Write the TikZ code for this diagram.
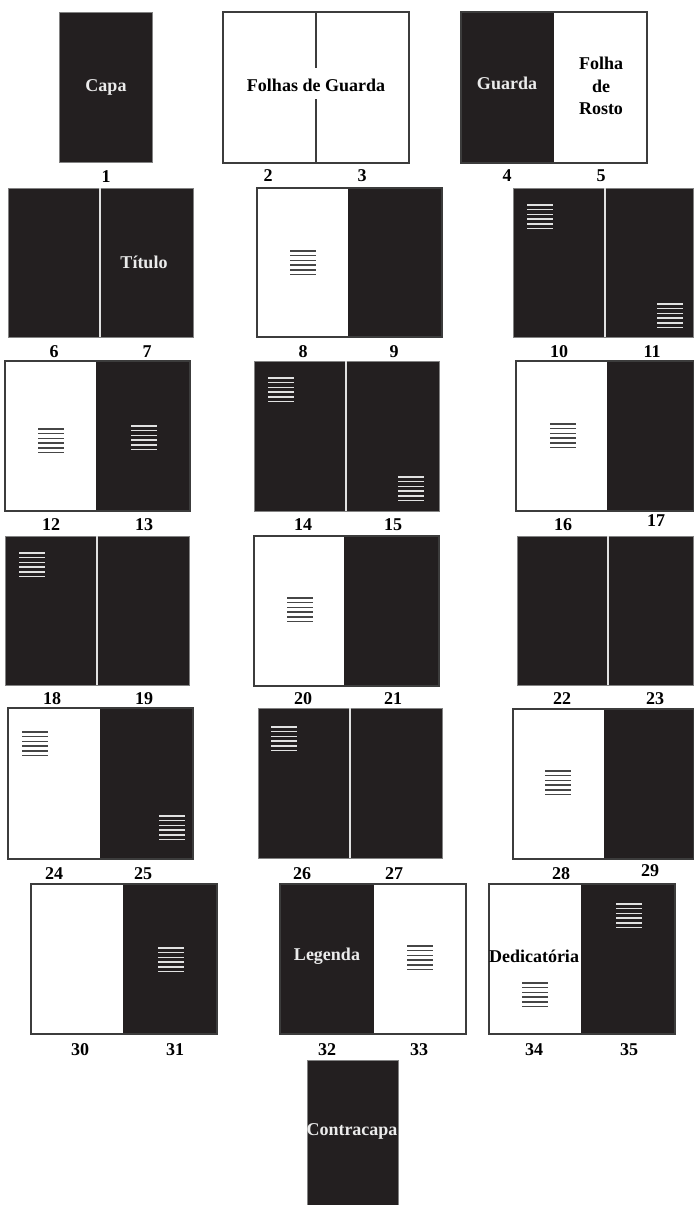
\documentclass[tikz,border=0pt]{standalone}
\usepackage{fontspec}
\setmainfont{Liberation Serif}
\definecolor{ink}{RGB}{35,31,32}
\definecolor{edge}{RGB}{60,60,60}
\definecolor{darkedge}{RGB}{130,130,130}
\definecolor{linedk}{RGB}{70,70,70}
\definecolor{linelt}{RGB}{225,225,225}
\tikzset{
  darkpg/.style={fill=ink, draw=darkedge, line width=0.6pt},
  darkfill/.style={fill=ink},
  whitepg/.style={fill=white, draw=edge, line width=1.2pt},
  outline/.style={draw=edge, line width=1.2pt},
  divw/.style={draw=linelt, line width=1.2pt},
  divk/.style={draw=edge, line width=1.2pt},
  txk/.style={draw=linedk, line width=1.4pt},
  txw/.style={draw=linelt, line width=1.4pt},
  num/.style={font=\bfseries\fontsize{18}{18}\selectfont, inner sep=0pt, text height=12pt, text depth=0pt, text=black},
  ttlw/.style={font=\bfseries\fontsize{18}{22.5}\selectfont, inner sep=0pt, text=white!92!black, align=center},
  ttlk/.style={font=\bfseries\fontsize{18}{22.5}\selectfont, inner sep=0pt, text=black, align=center}
}
\newcommand\txlines[3]{\foreach \k in {0,...,5}{\draw[#3] ({#1},{#2+4.7*\k}) -- ({#1+26},{#2+4.7*\k});}}
% mixed spread: x1 y1 xd x2 y2, dark side given by filling rectangle
\newcommand\mixL[5]{\fill[darkfill] (#1,#2) rectangle (#3,#5);\draw[outline] (#1,#2) rectangle (#4,#5);}
\newcommand\mixR[5]{\fill[darkfill] (#3,#2) rectangle (#4,#5);\draw[outline] (#1,#2) rectangle (#4,#5);}
\begin{document}
\begin{tikzpicture}[x=1pt,y=-1pt]
\useasboundingbox (0,0) rectangle (694,1205);
% ---- Row 0
\path[darkpg] (59,12) rectangle (152,162);
\node[ttlw] (capa) at (106,87) {Capa};
\node[num] (n1) at (106,176) {1};
\path[whitepg] (223,12) rectangle (409,163);
\draw[divk] (316,12) -- (316,68);
\draw[divk] (316,99) -- (316,163);
\node[ttlk] (guarda2) at (316,85) {Folhas de Guarda};
\node[num] (n2) at (268,175) {2};
\node[num] (n3) at (362,175) {3};
\mixL{461}{12}{554}{647}{163}
\node[ttlw] (guarda) at (507,83) {Guarda};
\node[ttlk] (rosto) at (601,86) {Folha\\de\\Rosto};
\node[num] (n4) at (507,175) {4};
\node[num] (n5) at (601,175) {5};
% ---- Row 1
\path[darkpg] (8,188) rectangle (193,337);
\draw[divw] (100,188) -- (100,337);
\node[ttlw] (titulo) at (144,262) {Título};
\node[num] (n6) at (54,351) {6};
\node[num] (n7) at (147,351) {7};
\mixR{257}{188}{348}{442}{337}
\txlines{290}{251}{txk}
\node[num] (n8) at (303,351) {8};
\node[num] (n9) at (394,351) {9};
\path[darkpg] (513,188) rectangle (693.7,337);
\draw[divw] (605,188) -- (605,337);
\txlines{527}{205}{txw}
\txlines{657}{304}{txw}
\node[num] (n10) at (559,351) {10};
\node[num] (n11) at (652,351) {11};
% ---- Row 2
\mixR{5}{361}{96}{190}{511}
\txlines{38}{429}{txk}
\txlines{131}{426}{txw}
\node[num] (n12) at (51,524) {12};
\node[num] (n13) at (144,524) {13};
\path[darkpg] (254,361) rectangle (439,511);
\draw[divw] (346,361) -- (346,511);
\txlines{268}{378}{txw}
\txlines{398}{477}{txw}
\node[num] (n14) at (303,524) {14};
\node[num] (n15) at (393,524) {15};
\mixR{516}{361}{607}{693.7}{511}
\txlines{550}{424}{txk}
\node[num] (n16) at (563,524) {16};
\node[num] (n17) at (656,520) {17};
% ---- Row 3
\path[darkpg] (5,536) rectangle (189,685);
\draw[divw] (97,536) -- (97,685);
\txlines{19}{553}{txw}
\node[num] (n18) at (52,698) {18};
\node[num] (n19) at (144,698) {19};
\mixR{254}{536}{344}{439}{686}
\txlines{287}{598}{txk}
\node[num] (n20) at (303,698) {20};
\node[num] (n21) at (393,698) {21};
\path[darkpg] (517,536) rectangle (693.7,685);
\draw[divw] (608,536) -- (608,685);
\node[num] (n22) at (562,698) {22};
\node[num] (n23) at (655,698) {23};
% ---- Row 4
\mixR{8}{708}{100}{193}{859}
\txlines{22}{732}{txk}
\txlines{159}{816}{txw}
\node[num] (n24) at (54,873) {24};
\node[num] (n25) at (143,873) {25};
\path[darkpg] (258,708) rectangle (442,858);
\draw[divw] (350,708) -- (350,858);
\txlines{271}{727}{txw}
\node[num] (n26) at (302,873) {26};
\node[num] (n27) at (394,873) {27};
\mixR{513}{709}{604}{693.7}{859}
\txlines{545}{771}{txk}
\node[num] (n28) at (561,873) {28};
\node[num] (n29) at (650,870) {29};
% ---- Row 5
\mixR{31}{884}{123}{217}{1034}
\txlines{158}{948}{txw}
\node[num] (n30) at (80,1049) {30};
\node[num] (n31) at (175,1049) {31};
\mixL{280}{884}{374}{466}{1034}
\node[ttlw] (legenda) at (327,956) {Legenda};
\txlines{407}{946}{txk}
\node[num] (n32) at (327,1049) {32};
\node[num] (n33) at (419,1049) {33};
\mixR{489}{884}{581}{675}{1034}
\node[ttlk] (dedic) at (534,956) {Dedicatória};
\txlines{522}{983}{txk}
\txlines{616}{904}{txw}
\node[num] (n34) at (534,1049) {34};
\node[num] (n35) at (629,1049) {35};
% ---- Row 6
\path[darkpg] (307,1060) rectangle (398,1205);
\node[ttlw] (contra) at (352,1131) {Contracapa};
\end{tikzpicture}
\end{document}
